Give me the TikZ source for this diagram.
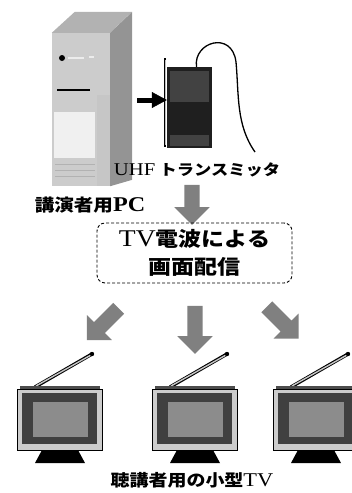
\documentclass[tikz,border=0pt]{standalone}
\usepackage{fontspec}
\setmainfont{Liberation Serif}[FakeStretch=1.15]
\newfontfamily\jp{Noto Sans CJK JP}[FakeStretch=1.15]
\usetikzlibrary{arrows.meta, positioning, calc, shapes.arrows}
\definecolor{pcfront}{gray}{0.80}
\definecolor{pctop}{gray}{0.70}
\definecolor{pcside}{gray}{0.58}
\definecolor{flowgrey}{gray}{0.50}
\definecolor{tvframe}{gray}{0.80}
\definecolor{tvring}{gray}{0.25}
\definecolor{tvscreen}{gray}{0.55}
% Latin letters set a size up, so that capitals stand as tall as the kana
\newcommand{\lat}[2]{{\fontsize{#1}{#1}\selectfont #2}}
\tikzset{
  tag/.style={inner sep=0pt, align=center},
  push/.style={-{Triangle[length=15pt, width=16pt, line width=0.5pt]}, line width=5pt},
  bigarrow/.style={single arrow, fill=flowgrey, draw=none, inner xsep=0pt, inner ysep=7.5pt,
    single arrow head extend=10pt, minimum height=#1},
  bigarrow/.default=45pt,
  wave/.style={draw, line width=0.9pt, dash pattern=on 3pt off 2pt, rounded corners=8pt,
    minimum width=195pt, minimum height=60pt, align=center, font=\fontsize{20}{28}\selectfont},
  % small TV set, origin at the left end of its top strip
  tvset/.pic={
    \draw[line width=3.4pt] (18,0) -- (75,-33);
    \draw[gray!45, line width=1.4pt] (19,-1) -- (74,-32);
    \fill (75,-33) circle (2.2);
    \fill[black!70] (3,-1) rectangle (83,3);
    \filldraw[fill=tvframe, line width=0.6pt] (0,2) rectangle (85,63);
    \fill[tvring] (5,6) rectangle (80,57);
    \fill[tvscreen] (16,15) rectangle (71,50);
    \fill (25,63) -- (61,63) -- (68,76) -- (18,76) -- cycle;
    \coordinate (-top) at (42,0);
  },
}
\begin{document}
\begin{tikzpicture}[x=1pt, y=-1pt]
  \useasboundingbox (0,0) rectangle (352,493);
  % lecturer's PC tower
  \node[fill=pcfront, minimum width=58pt, minimum height=153pt, inner sep=0pt] (pc) at (81,109.5) {};
  \fill[pctop] (pc.north west) -- ++(23,-21) -- ++(57,0) -- (pc.north east) -- cycle;
  \fill[pcside] (pc.north east) -- ++(22,-21) -- ++(0,168) -- (pc.south east) -- cycle;
  \fill[gray!45] (97,95) rectangle (110,186);
  \fill (62,58) circle (3);
  \draw[gray!15, line width=1.5pt] (68,58) -- (84,58) (89,57) -- (94,57);
  \draw[line width=1.6pt] (57,90) -- (90,90);
  \fill[gray!12] (54,112) rectangle (95,158);
  \foreach \y in {164,170,176} \draw[gray!60, line width=1pt] (55,\y) -- (95,\y);
  \node[tag, font=\bfseries\fontsize{17}{20}\selectfont] (pclabel) at (90,205) {{\jp 講演者用}\lat{21}{PC}};
  % UHF transmitter with its antenna and cable
  \node[fill=black!88, minimum width=45pt, minimum height=81pt, inner sep=0pt] (tx) at (189.5,107.5) {};
  \fill[black!74] ($(tx.north west)+(3,4)$) rectangle ($(tx.east)+(-3,-6)$);
  \fill[black!74] ($(tx.south west)+(3,-13)$) rectangle ($(tx.south east)+(-3,-2)$);
  \draw[line width=2.6pt] (165,58) -- (165,147);
  \draw[gray!50, line width=0.7pt] (165,60) -- (165,145);
  \draw[line width=1.3pt] ($(tx.north)+(7,0)$) .. controls (193,42) and (232,30) .. (236,62)
    .. controls (239,95) and (236,125) .. (255,152);
  \coordinate (jack) at (137,100);
  \draw[push] (jack) -- (jack -| tx.west);
  \node[tag, font=\bfseries\fontsize{15}{18}\selectfont] (txlabel) at (197,170) {\lat{18}{\mdseries UHF} {\jp トランスミッタ}};
  % broadcast
  \node[bigarrow=40pt, rotate=-90] (feed) at (192,201) {};
  \node[wave] (box) at (194.5,253) {\lat{24}{TV}{\jp\bfseries 電波による}\\{\jp\bfseries 画面配信}};
  \node[bigarrow=45pt, rotate=-135] (fanA) at (105.5,321.5) {};
  \node[bigarrow=48pt, rotate=-90] (fanB) at (195,326) {};
  \node[bigarrow=45pt, rotate=-45] (fanC) at (280,320) {};
  % receiving TV sets
  \foreach \x/\n in {17/tvA, 152/tvB, 273/tvC} \pic (\n) at (\x,387) {tvset};
  \node[tag, font=\fontsize{16.5}{20}\selectfont] (tvlabel) at (192,480) {{\jp\bfseries 聴講者用の小型}\lat{19.5}{TV}};
\end{tikzpicture}
\end{document}
